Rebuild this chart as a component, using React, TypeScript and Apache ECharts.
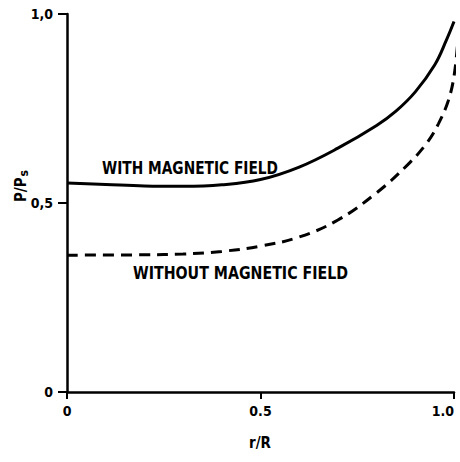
import React, { useEffect, useRef } from "react";
import * as echarts from "echarts";

const withFieldR = [0, 0.1, 0.2, 0.3, 0.4, 0.5, 0.6, 0.7, 0.8, 0.85, 0.9, 0.95, 0.98, 1.0];
const withFieldP = [0.553, 0.549, 0.545, 0.544, 0.548, 0.562, 0.595, 0.645, 0.705, 0.743, 0.794, 0.865, 0.93, 0.98];

const withoutFieldR = [0, 0.2, 0.3, 0.4, 0.5, 0.6, 0.7, 0.8, 0.88, 0.93, 0.96, 0.985, 1.0, 1.01];
const withoutFieldP = [0.362, 0.363, 0.365, 0.372, 0.386, 0.41, 0.455, 0.527, 0.601, 0.659, 0.71, 0.77, 0.835, 0.93];

const xTicks = ["0", "0.5", "1.0"];
const yTicks = ["0", "0,5", "1,0"];

const FONT = "DejaVu Sans Condensed";

export default function App() {
  const ref = useRef<HTMLDivElement>(null);
  useEffect(() => {
    document.body.style.margin = "0";
    document.body.style.overflow = "hidden";
    document.documentElement.style.overflow = "hidden";
    const chart = echarts.init(ref.current!, null, { renderer: "svg", width: 460, height: 462 });
    const pair = (xs: number[], ys: number[]) => xs.map((x, i) => [x, ys[i]]);
    chart.setOption({
      animation: false,
      backgroundColor: "#ffffff",
      grid: { left: 67, right: 6, top: 14, bottom: 70, containLabel: false, outerBoundsMode: "none" },
      xAxis: {
        type: "value",
        min: 0,
        max: 1,
        interval: 0.5,
        splitLine: { show: false },
        axisLine: { show: true, lineStyle: { color: "#000", width: 2.5 } },
        axisTick: { show: true, length: 7, lineStyle: { color: "#000", width: 2 } },
        axisLabel: {
          color: "#000",
          fontFamily: FONT,
          fontWeight: "bold",
          fontSize: 14,
          margin: 12,
          alignMaxLabel: "right",
          formatter: (v: number) => xTicks[Math.round(v * 2)],
        },
      },
      yAxis: {
        type: "value",
        min: 0,
        max: 1,
        interval: 0.5,
        splitLine: { show: false },
        axisLine: { show: true, lineStyle: { color: "#000", width: 2.5 } },
        axisTick: { show: true, length: 9, lineStyle: { color: "#000", width: 2 } },
        axisLabel: {
          color: "#000",
          fontFamily: FONT,
          fontWeight: "bold",
          fontSize: 14,
          margin: 14,
          formatter: (v: number) => yTicks[Math.round(v * 2)],
        },
      },
      series: [
        {
          type: "line",
          name: "WITH MAGNETIC FIELD",
          data: pair(withFieldR, withFieldP),
          smooth: 0.4,
          showSymbol: false,
          clip: false,
          lineStyle: { color: "#000", width: 3 },
        },
        {
          type: "line",
          name: "WITHOUT MAGNETIC FIELD",
          data: pair(withoutFieldR, withoutFieldP),
          smooth: 0.4,
          showSymbol: false,
          clip: false,
          lineStyle: { color: "#000", width: 3, type: [11, 7] },
        },
      ],
      graphic: [
        {
          type: "text",
          x: 102,
          y: 168,
          scaleY: 1.1,
          style: {
            text: "WITH MAGNETIC FIELD",
            fontFamily: FONT,
            fontWeight: "bold",
            fontSize: 15.3,
            fill: "#000",
            verticalAlign: "middle",
          },
        },
        {
          type: "text",
          x: 133,
          y: 273,
          scaleY: 1.15,
          style: {
            text: "WITHOUT MAGNETIC FIELD",
            fontFamily: FONT,
            fontWeight: "bold",
            fontSize: 15.8,
            fill: "#000",
            verticalAlign: "middle",
          },
        },
        {
          type: "text",
          x: 260,
          y: 443,
          style: {
            text: "r/R",
            fontFamily: FONT,
            fontWeight: "bold",
            fontSize: 15,
            fill: "#000",
            align: "center",
            verticalAlign: "middle",
          },
        },
        {
          type: "text",
          x: 21,
          y: 186,
          rotation: Math.PI / 2,
          style: {
            text: "{a|P/P}{s|s}",
            fontFamily: FONT,
            fontWeight: "bold",
            fill: "#000",
            align: "center",
            verticalAlign: "middle",
            rich: {
              a: { fontFamily: FONT, fontWeight: "bold", fontSize: 15, fill: "#000", verticalAlign: "middle" },
              s: { fontFamily: FONT, fontWeight: "bold", fontSize: 12, fill: "#000", verticalAlign: "bottom", padding: [6, 0, 0, 1] },
            },
          },
        },
      ],
    });
    return () => chart.dispose();
  }, []);
  return (
    <div
      ref={ref}
      style={{ position: "fixed", left: 0, top: 0, width: 460, height: 462, overflow: "hidden" }}
    />
  );
}
